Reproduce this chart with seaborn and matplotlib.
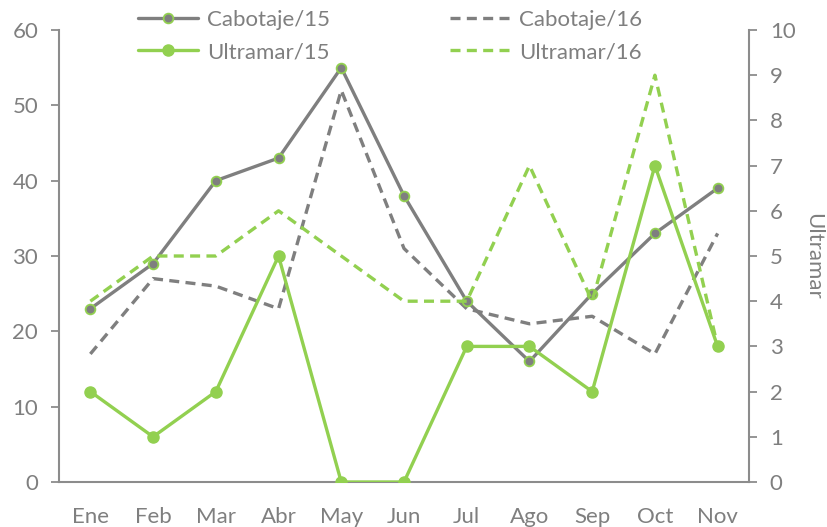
import matplotlib
matplotlib.use("Agg")
import matplotlib.pyplot as plt
import seaborn as sns
import pandas as pd
import numpy as np
from matplotlib.lines import Line2D

months = ["Ene", "Feb", "Mar", "Abr", "May", "Jun", "Jul", "Ago", "Sep", "Oct", "Nov"]
cabotaje_15 = [23, 29, 40, 43, 55, 38, 24, 16, 25, 33, 39]
cabotaje_16 = [17, 27, 26, 23, 52, 31, 23, 21, 22, 17, 33]
ultramar_15 = [2, 1, 2, 5, 0, 0, 3, 3, 2, 7, 3]
ultramar_16 = [4, 5, 5, 6, 5, 4, 4, 7, 4, 9, 3]
left_ticks = [0, 10, 20, 30, 40, 50, 60]
right_ticks = list(range(0, 11))

GRAY = "#7f7f7f"
GREEN = "#92d050"
TXT = "#7f7f7f"
SPINE = "#8c8c8c"
FS = 16

sns.set_style("white")
plt.rcParams["font.family"] = ["Lato", "DejaVu Sans"]

pos = np.arange(len(months))
df = pd.DataFrame({"pos": pos, "c15": cabotaje_15, "c16": cabotaje_16,
                   "u15": ultramar_15, "u16": ultramar_16})

fig = plt.figure(figsize=(8.28, 5.27), dpi=100)
ax = fig.add_axes([59 / 828, 45 / 527, 690 / 828, 452 / 527])
ax2 = ax.twinx()

lw = 2.4
DASH = (3.0, 1.9)
sns.lineplot(data=df, x="pos", y="c16", ax=ax, color=GRAY, lw=lw)
ax.lines[-1].set_dashes(DASH)
sns.lineplot(data=df, x="pos", y="c15", ax=ax, color=GRAY, lw=lw,
             marker="o", markersize=7, markerfacecolor=GRAY,
             markeredgecolor=GREEN, markeredgewidth=1.3)
sns.lineplot(data=df, x="pos", y="u16", ax=ax2, color=GREEN, lw=lw)
ax2.lines[-1].set_dashes(DASH)
sns.lineplot(data=df, x="pos", y="u15", ax=ax2, color=GREEN, lw=lw,
             marker="o", markersize=8, markerfacecolor=GREEN,
             markeredgecolor=GREEN, markeredgewidth=1)

ax.set_xlim(-0.5, len(months) - 0.5)
ax.set_ylim(0, 60)
ax2.set_ylim(0, 10)
ax.set_yticks(left_ticks)
ax2.set_yticks(right_ticks)
ax.set_xticks(pos)
ax.set_xticklabels(months)
ax.set_xticks(np.arange(-0.5, len(months)), minor=True)
ax.set_xlabel("")
ax.set_ylabel("")
ax2.set_ylabel("Ultramar", rotation=270, labelpad=20, color=TXT, fontsize=FS)
ax2.set_xlabel("")

for a in (ax, ax2):
    for s in a.spines.values():
        s.set_visible(False)
ax.spines["left"].set_visible(True)
ax.spines["bottom"].set_visible(True)
ax2.spines["right"].set_visible(True)
for s in (ax.spines["left"], ax.spines["bottom"], ax2.spines["right"]):
    s.set_color(SPINE)
    s.set_linewidth(1.5)

ax.tick_params(axis="x", which="major", length=0, pad=18, labelsize=FS, labelcolor=TXT)
ax.tick_params(axis="x", which="minor", length=6, width=1.3, color=SPINE, direction="out")
ax.tick_params(axis="y", length=6, width=1.3, color=SPINE, labelsize=FS, labelcolor=TXT, pad=9,
               direction="out", left=True)
ax2.tick_params(axis="y", length=6, width=1.3, color=SPINE, labelsize=FS, labelcolor=TXT, pad=9,
                direction="out", right=True)
ax.grid(False)
ax2.grid(False)

handles = [
    Line2D([], [], color=GRAY, lw=lw, marker="o", markersize=7, markerfacecolor=GRAY,
           markeredgecolor=GREEN, markeredgewidth=1.3),
    Line2D([], [], color=GREEN, lw=lw, marker="o", markersize=8, markerfacecolor=GREEN,
           markeredgecolor=GREEN),
    Line2D([], [], color=GRAY, lw=lw, dashes=DASH),
    Line2D([], [], color=GREEN, lw=lw, dashes=DASH),
]
labels = ["Cabotaje/15", "Ultramar/15", "Cabotaje/16", "Ultramar/16"]
leg = fig.legend(handles, labels, ncol=2, loc="center", bbox_to_anchor=(390 / 828, 1 - 36 / 527),
                 frameon=False, fontsize=FS, handlelength=2.7, handletextpad=0.4,
                 columnspacing=5.4, labelspacing=0.55, labelcolor=TXT)

fig.savefig("out.png", dpi=100)
